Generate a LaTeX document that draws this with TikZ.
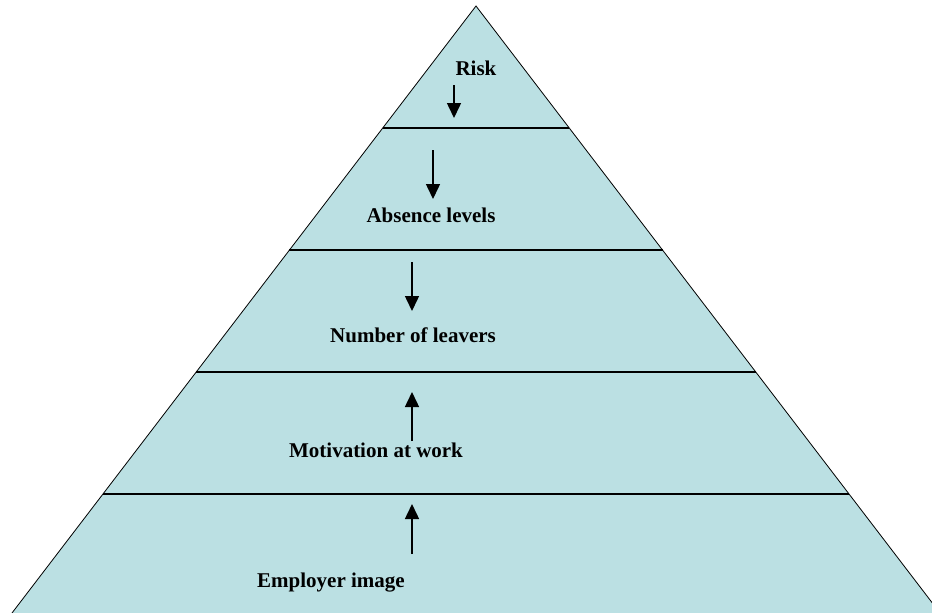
\documentclass[tikz,border=0pt]{standalone}
\usepackage{fontspec}
\setmainfont{Liberation Serif}
\usepackage{tikz}
\usetikzlibrary{arrows.meta, calc}
\definecolor{pyrfill}{RGB}{187,224,227}

\begin{document}
\begin{tikzpicture}[x=1pt, y=-1pt,
    lbl/.style={anchor=base, font=\fontsize{21}{25}\selectfont\bfseries},
    flow/.style={-{Triangle[width=14pt,length=15pt]}, line width=1.5pt}]
  \useasboundingbox (0,0) rectangle (932,613);
  \coordinate (apex) at (476,6);
  \coordinate (bl) at (12,613);
  \coordinate (br) at (940,613);
  \begin{scope}
    \clip (0,0) rectangle (932,613);
    \filldraw[fill=pyrfill, draw=black, line width=0.8pt] (bl) -- (apex) -- (br);
    \foreach \t in {0.201,0.402,0.603,0.804}
      \draw[line width=1.1pt] ($(apex)!\t!(bl)$) -- ($(apex)!\t!(br)$);
  \end{scope}

  \node[lbl] (risk) at (476,75) {Risk};
  \node[lbl] (absence) at (431,222) {Absence levels};
  \node[lbl] (leavers) at (413,342) {Number of leavers};
  \node[lbl] (motivation) at (376,457) {Motivation at work};
  \node[lbl] (image) at (331,587) {Employer image};

  \coordinate (r1) at (454,85);  \coordinate (r2) at (454,118);
  \coordinate (a1) at (433,150); \coordinate (a2) at (433,199);
  \coordinate (n1) at (412,262); \coordinate (n2) at (412,311);
  \coordinate (m1) at (412,441); \coordinate (m2) at (412,392);
  \coordinate (e1) at (412,554); \coordinate (e2) at (412,504);

  \draw[flow] (r1) -- (r2);
  \draw[flow] (a1) -- (a2);
  \draw[flow] (n1) -- (n2);
  \draw[flow] (m1) -- (m2);
  \draw[flow] (e1) -- (e2);
\end{tikzpicture}
\end{document}
